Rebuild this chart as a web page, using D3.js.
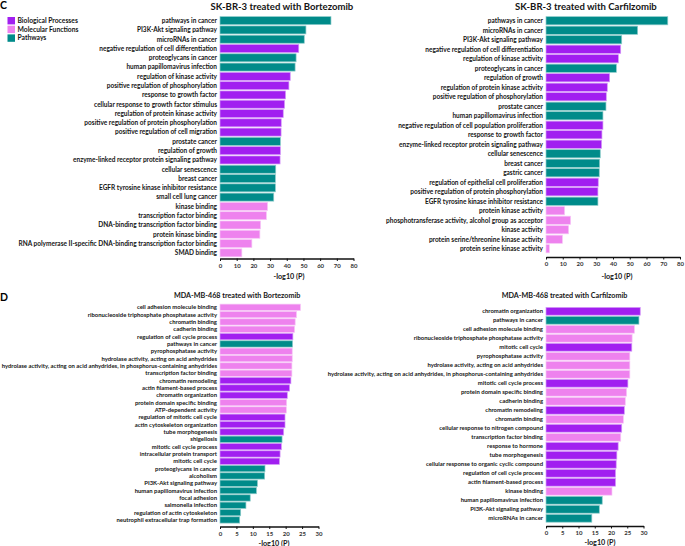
<!DOCTYPE html>
<html>
<head>
<meta charset="utf-8">
<script src="https://cdn.jsdelivr.net/npm/d3@7"></script>
<style>
body { margin: 0; background: #fff; }
svg { display: block; font-family: Lato, "Liberation Sans", Arial, sans-serif; }
</style>
</head>
<body>
<svg id="chart" width="685" height="546"></svg>
<script>
// categories: BP = Biological Processes, MF = Molecular Functions, PW = Pathways
var typeNames = ['Biological Processes', 'Molecular Functions', 'Pathways'];
var typeCodes = ['BP', 'MF', 'PW'];
var typeColors = ['#a11ff0', '#ee82ee', '#008b8a'];

// SK-BR-3 treated with Bortezomib
var skbrBortTerms = ['pathways in cancer', 'PI3K-Akt signaling pathway', 'microRNAs in cancer',
  'negative regulation of cell differentiation', 'proteoglycans in cancer', 'human papillomavirus infection',
  'regulation of kinase activity', 'positive regulation of phosphorylation', 'response to growth factor',
  'cellular response to growth factor stimulus', 'regulation of protein kinase activity',
  'positive regulation of protein phosphorylation', 'positive regulation of cell migration', 'prostate cancer',
  'regulation of growth', 'enzyme-linked receptor protein signaling pathway', 'cellular senescence', 'breast cancer',
  'EGFR tyrosine kinase inhibitor resistance', 'small cell lung cancer', 'kinase binding',
  'transcription factor binding', 'DNA-binding transcription factor binding', 'protein kinase binding',
  'RNA polymerase II-specific DNA-binding transcription factor binding', 'SMAD binding'];
var skbrBortVals = [66.5, 51.5, 50.5, 47.2, 45.6, 45.0, 42.1, 41.3, 39.3, 38.7, 37.9, 36.7, 36.6, 36.2,
  36.2, 36.0, 33.4, 33.2, 33.2, 32.2, 28.5, 27.8, 24.3, 23.9, 19.1, 13.1];
var skbrBortType = ['PW', 'PW', 'PW', 'BP', 'PW', 'PW', 'BP', 'BP', 'BP', 'BP', 'BP', 'BP', 'BP', 'PW',
  'BP', 'BP', 'PW', 'PW', 'PW', 'PW', 'MF', 'MF', 'MF', 'MF', 'MF', 'MF'];

// SK-BR-3 treated with Carfilzomib
var skbrCarfTerms = ['pathways in cancer', 'microRNAs in cancer', 'PI3K-Akt signaling pathway',
  'negative regulation of cell differentiation', 'regulation of kinase activity', 'proteoglycans in cancer',
  'regulation of growth', 'regulation of protein kinase activity', 'positive regulation of phosphorylation',
  'prostate cancer', 'human papillomavirus infection', 'negative regulation of cell population proliferation',
  'response to growth factor', 'enzyme-linked receptor protein signaling pathway', 'cellular senescence',
  'breast cancer', 'gastric cancer', 'regulation of epithelial cell proliferation',
  'positive regulation of protein phosphorylation', 'EGFR tyrosine kinase inhibitor resistance',
  'protein kinase activity', 'phosphotransferase activity, alcohol group as acceptor', 'kinase activity',
  'protein serine/threonine kinase activity', 'protein serine kinase activity'];
var skbrCarfVals = [72.7, 54.7, 45.2, 44.6, 43.2, 42.0, 38.0, 36.6, 36.0, 35.8, 34.0, 34.0, 33.4, 33.2,
  32.4, 32.0, 31.8, 31.2, 31.0, 31.0, 11.1, 14.7, 13.5, 9.8, 2.0];
var skbrCarfType = ['PW', 'PW', 'PW', 'BP', 'BP', 'PW', 'BP', 'BP', 'BP', 'PW', 'PW', 'BP', 'BP', 'BP',
  'PW', 'PW', 'PW', 'BP', 'BP', 'PW', 'MF', 'MF', 'MF', 'MF', 'MF'];

// MDA-MB-468 treated with Bortezomib
var mdaBortTerms = ['cell adhesion molecule binding', 'ribonucleoside triphosphate phosphatase activity',
  'chromatin binding', 'cadherin binding', 'regulation of cell cycle process', 'pathways in cancer',
  'pyrophosphatase activity', 'hydrolase activity, acting on acid anhydrides',
  'hydrolase activity, acting on acid anhydrides, in phosphorus-containing anhydrides',
  'transcription factor binding', 'chromatin remodeling', 'actin filament-based process',
  'chromatin organization', 'protein domain specific binding', 'ATP-dependent activity',
  'regulation of mitotic cell cycle', 'actin cytoskeleton organization', 'tube morphogenesis', 'shigellosis',
  'mitotic cell cycle process', 'intracellular protein transport', 'mitotic cell cycle',
  'proteoglycans in cancer', 'alcoholism', 'PI3K-Akt signaling pathway', 'human papillomavirus infection',
  'focal adhesion', 'salmonella infection', 'regulation of actin cytoskeleton',
  'neutrophil extracellular trap formation'];
var mdaBortVals = [24.5, 23.3, 22.9, 22.7, 22.2, 22.1, 22.0, 22.0, 21.9, 21.9, 21.6, 21.2, 20.5, 20.3,
  20.2, 19.8, 19.8, 19.4, 18.9, 18.7, 18.3, 18.1, 13.7, 13.6, 11.4, 11.1, 9.2, 7.9, 6.3, 6.0];
var mdaBortType = ['MF', 'MF', 'MF', 'MF', 'BP', 'PW', 'MF', 'MF', 'MF', 'MF', 'BP', 'BP', 'BP', 'MF',
  'MF', 'BP', 'BP', 'BP', 'PW', 'BP', 'BP', 'BP', 'PW', 'PW', 'PW', 'PW', 'PW', 'PW', 'PW', 'PW'];

// MDA-MB-468 treated with Carfilzomib
var mdaCarfTerms = ['chromatin organization', 'pathways in cancer', 'cell adhesion molecule binding',
  'ribonucleoside triphosphate phosphatase activity', 'mitotic cell cycle', 'pyrophosphatase activity',
  'hydrolase activity, acting on acid anhydrides',
  'hydrolase activity, acting on acid anhydrides, in phosphorus-containing anhydrides',
  'mitotic cell cycle process', 'protein domain specific binding', 'cadherin binding', 'chromatin remodeling',
  'chromatin binding', 'cellular response to nitrogen compound', 'transcription factor binding',
  'response to hormone', 'tube morphogenesis', 'cellular response to organic cyclic compound',
  'regulation of cell cycle process', 'actin filament-based process', 'kinase binding',
  'human papillomavirus infection', 'PI3K-Akt signaling pathway', 'microRNAs in cancer'];
var mdaCarfVals = [29.0, 28.6, 27.2, 26.5, 26.4, 25.8, 25.8, 25.8, 25.2, 24.8, 24.4, 24.1, 23.8, 23.3,
  23.0, 22.2, 21.8, 21.6, 21.4, 21.4, 20.3, 17.3, 16.4, 14.1];
var mdaCarfType = ['BP', 'PW', 'MF', 'MF', 'BP', 'MF', 'MF', 'MF', 'BP', 'MF', 'MF', 'BP', 'MF', 'BP',
  'MF', 'BP', 'BP', 'BP', 'BP', 'BP', 'MF', 'PW', 'PW', 'PW'];

var ticksC = [0, 10, 20, 30, 40, 50, 60, 70, 80];
var ticksD = [0, 5, 10, 15, 20, 25, 30];

var svg = d3.select('#chart');
var color = d3.scaleOrdinal().domain(typeCodes).range(typeColors);

// size a font so that a reference string gets the width
function fitSize(str, target, weight) {
  var t = svg.append('text').attr('font-size', 20).attr('font-weight', weight).text(str);
  var w = t.node().getComputedTextLength();
  t.remove();
  return 20 * target / w;
}

var labelC = fitSize('negative regulation of cell differentiation', 118, 'bold');
var labelD = fitSize('hydrolase activity, acting on acid anhydrides, in phosphorus-containing anhydrides', 216, 'bold');
var titleC = fitSize('SK-BR-3 treated with Carfilzomib', 142, 'bold');
var titleD = fitSize('MDA-MB-468 treated with Carfilzomib', 126, 'bold');
var xlabSize = fitSize('-log10 (P)', 31, 'bold');
var legSize = fitSize('Molecular Functions', 61, 'bold');

function panel(o) {
  var g = svg.append('g');
  var x = d3.scaleLinear().domain([0, o.max]).range([o.x0, o.x1]);
  var y = d3.scaleBand().domain(o.terms).range([o.y0, o.y1]).paddingInner(0.14).paddingOuter(0.07);

  g.selectAll('rect.bar')
    .data(o.terms)
    .enter().append('rect')
    .attr('class', 'bar')
    .attr('x', x(0))
    .attr('y', function(d) { return y(d); })
    .attr('width', function(d, i) { return x(o.vals[i]) - x(0); })
    .attr('height', y.bandwidth())
    .attr('fill', function(d, i) { return color(o.types[i]); })
    .attr('stroke', function(d, i) { return d3.interpolateRgb(color(o.types[i]), '#fff')(0.55); })
    .attr('stroke-width', 0.7);

  g.selectAll('text.lab')
    .data(o.terms)
    .enter().append('text')
    .attr('class', 'lab')
    .attr('x', x(0) - 3)
    .attr('y', function(d) { return y(d) + y.bandwidth() / 2; })
    .attr('dy', '0.35em')
    .attr('text-anchor', 'end')
    .attr('font-size', o.labelSize)
    .attr('font-weight', 'bold')
    .attr('fill', '#151515')
    .text(function(d) { return d; });

  var ax = g.append('g')
    .attr('transform', 'translate(0,' + o.axisY + ')')
    .call(d3.axisBottom(x).tickValues(o.ticks).tickSize(2.5).tickSizeOuter(0).tickPadding(2.5));
  ax.select('.domain').attr('stroke', '#111').attr('stroke-width', 1.3);
  ax.selectAll('.tick line').attr('stroke', '#111').attr('stroke-width', 1);
  ax.selectAll('.tick text')
    .attr('font-size', 6)
    .attr('font-weight', 'bold')
    .attr('font-family', 'Lato, "Liberation Sans", Arial, sans-serif')
    .attr('fill', '#333');

  g.append('text')
    .attr('x', o.titleX)
    .attr('y', o.titleY)
    .attr('font-size', o.titleSize)
    .attr('font-weight', 'bold')
    .attr('fill', '#151515')
    .text(o.title);

  g.append('text')
    .attr('x', o.xlabX)
    .attr('y', o.xlabY)
    .attr('text-anchor', 'middle')
    .attr('font-size', xlabSize)
    .attr('font-weight', 'bold')
    .attr('fill', '#151515')
    .text('-log10 (P)');
}

panel({ terms: skbrBortTerms, vals: skbrBortVals, types: skbrBortType, max: 80, ticks: ticksC,
  x0: 220, x1: 353.5, y0: 16, y1: 257.5, axisY: 258.5, labelSize: labelC,
  title: 'SK-BR-3 treated with Bortezomib', titleX: 210.5, titleY: 10, titleSize: titleC,
  xlabX: 289, xlabY: 279 });

panel({ terms: skbrCarfTerms, vals: skbrCarfVals, types: skbrCarfType, max: 80, ticks: ticksC,
  x0: 546, x1: 680, y0: 16, y1: 253.5, axisY: 257, labelSize: labelC,
  title: 'SK-BR-3 treated with Carfilzomib', titleX: 515, titleY: 10, titleSize: titleC,
  xlabX: 617, xlabY: 279 });

panel({ terms: mdaBortTerms, vals: mdaBortVals, types: mdaBortType, max: 30, ticks: ticksD,
  x0: 220, x1: 318.5, y0: 303.6, y1: 523.6, axisY: 526.5, labelSize: labelD,
  title: 'MDA-MB-468 treated with Bortezomib', titleX: 174, titleY: 298, titleSize: titleD,
  xlabX: 274, xlabY: 545.5 });

panel({ terms: mdaCarfTerms, vals: mdaCarfVals, types: mdaCarfType, max: 30, ticks: ticksD,
  x0: 546, x1: 643.5, y0: 306.8, y1: 522.8, axisY: 526, labelSize: labelD,
  title: 'MDA-MB-468 treated with Carfilzomib', titleX: 501.7, titleY: 298, titleSize: titleD,
  xlabX: 600, xlabY: 545 });

// panel letters
svg.append('text').attr('x', 0).attr('y', 8.5).attr('font-size', 10.5).attr('font-weight', 'bold').text('C');
svg.append('text').attr('x', 0).attr('y', 301).attr('font-size', 10.5).attr('font-weight', 'bold').text('D');

// legend
var leg = svg.append('g').selectAll('g')
  .data(typeCodes)
  .enter().append('g')
  .attr('transform', function(d, i) { return 'translate(7.5,' + (17 + i * 8.7) + ')'; });
leg.append('rect')
  .attr('width', 7.5)
  .attr('height', 7.4)
  .attr('fill', function(d) { return color(d); });
leg.append('text')
  .attr('x', 10)
  .attr('y', 3.7)
  .attr('dy', '0.35em')
  .attr('font-size', legSize)
  .attr('font-weight', 'bold')
  .attr('fill', '#151515')
  .text(function(d, i) { return typeNames[i]; });
</script>
</body>
</html>
